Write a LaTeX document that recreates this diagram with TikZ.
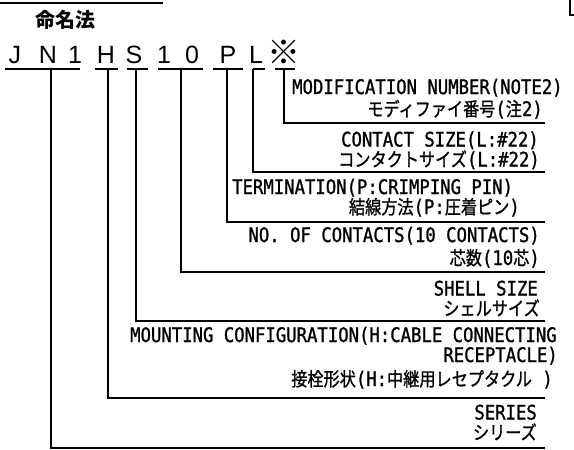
\documentclass[tikz,border=0pt]{standalone}
\usepackage{fontspec}
\setmainfont[FakeStretch=0.864,FakeBold=1.2]{DejaVu Sans Mono}
\newfontfamily\jpfam[FakeStretch=0.85,FakeBold=1]{Noto Sans CJK JP}
\newfontfamily\titlefam{Noto Sans CJK JP}
\newfontfamily\codefam{Liberation Sans}
\newcommand\jpf{\jpfam\fontsize{19}{20}\selectfont}
\begin{document}
\begin{tikzpicture}[x=1pt,y=-1pt,
  lbl/.style={font=\fontsize{20}{24}\selectfont, inner sep=0pt, text height=14pt, text depth=0pt},
  code/.style={font=\codefam\fontsize{25}{30}\selectfont, inner sep=0pt, anchor=base},
  leader/.style={line width=1.6pt},
  uline/.style={line width=1.8pt}]
\useasboundingbox (0,0) rectangle (574,450);
% top rule and corner mark
\draw[line width=1.4pt] (0,3) -- (163,3);
\draw[line width=1.4pt] (570,0) -- (570,15) -- (574,15);
\node[inner sep=0pt, font=\titlefam\bfseries\fontsize{20}{24}\selectfont] (title) at (65,20) {命名法};
% code letters
\node[code] (cJ) at (15,63) {J};
\node[code] (cN) at (48,63) {N};
\node[code] (c1) at (75,63) {1};
\node[code] (cH) at (106,63) {H};
\node[code] (cS) at (134,63) {S};
\node[code] (c1b) at (164,63) {1};
\node[code] (c0) at (192,63) {0};
\node[code] (cP) at (228,63) {P};
\node[code] (cL) at (256,63) {L};
\node[inner sep=0pt, font=\titlefam\bfseries\fontsize{33}{36}\selectfont] (cX) at (284,52) {※};
% underlines
\draw[uline] (5,69) -- (80,69);
\draw[uline] (95,69) -- (118,69);
\draw[uline] (127,69) -- (148,69);
\draw[uline] (158,69) -- (203,69);
\draw[uline] (213,69) -- (243,69);
\draw[uline] (253,69) -- (265,69);
\draw[uline] (275,69) -- (295,69);
% tick start points
\coordinate (tX) at (284,69);
\coordinate (tL) at (253,69);
\coordinate (tP) at (227,69);
\coordinate (t10) at (181,69);
\coordinate (tS) at (136,69);
\coordinate (tH) at (108,69);
\coordinate (tJN) at (51,69);
% leader ends
\coordinate (eX) at (545,123);
\coordinate (eL) at (545,172);
\coordinate (eP) at (545,222);
\coordinate (e10) at (545,272);
\coordinate (eS) at (545,321);
\coordinate (eH) at (545,398);
\coordinate (eJN) at (545,448);
\draw[leader] (tX) |- (eX);
\draw[leader] (tL) |- (eL);
\draw[leader] (tP) |- (eP);
\draw[leader] (t10) |- (e10);
\draw[leader] (tS) |- (eS);
\draw[leader] (tH) |- (eH);
\draw[leader] (tJN) |- (eJN);
% labels
\node[lbl, anchor=base west] (modA) at (292,94) {MODIFICATION NUMBER(NOTE2)};
\node[lbl, anchor=base east] (modB) at (543,116) {{\jpf モディファイ番号}({\jpf 注}2)};
\node[lbl, anchor=base east] (csA) at (539,146.5) {CONTACT SIZE(L:\#22)};
\node[lbl, anchor=base east] (csB) at (540,166.5) {{\jpf コンタクトサイズ}(L:\#22)};
\node[lbl, anchor=base west] (tmA) at (232,194) {TERMINATION(P:CRIMPING PIN)};
\node[lbl, anchor=base east] (tmB) at (520,214) {{\jpf 結線方法}(P:{\jpf 圧着ピン})};
\node[lbl, anchor=base east] (ncA) at (540,242) {NO. OF CONTACTS(10 CONTACTS)};
\node[lbl, anchor=base east] (ncB) at (540,265) {{\jpf 芯数}(10{\jpf 芯})};
\node[lbl, anchor=base east] (ssA) at (538,295.5) {SHELL SIZE};
\node[lbl, anchor=base east] (ssB) at (540,315.5) {{\jpf シェルサイズ}};
\node[lbl, anchor=base west] (mcA) at (130,342) {MOUNTING CONFIGURATION(H:CABLE CONNECTING};
\node[lbl, anchor=base east] (mcB) at (558,362) {RECEPTACLE)};
\node[lbl, anchor=base east] (mcC) at (553,386) {{\jpf 接栓形状}(H:{\jpf 中継用レセプタクル} )};
\node[lbl, anchor=base east] (srA) at (537,419.5) {SERIES};
\node[lbl, anchor=base east] (srB) at (537,439.5) {{\jpf シリーズ}};
\end{tikzpicture}
\end{document}
